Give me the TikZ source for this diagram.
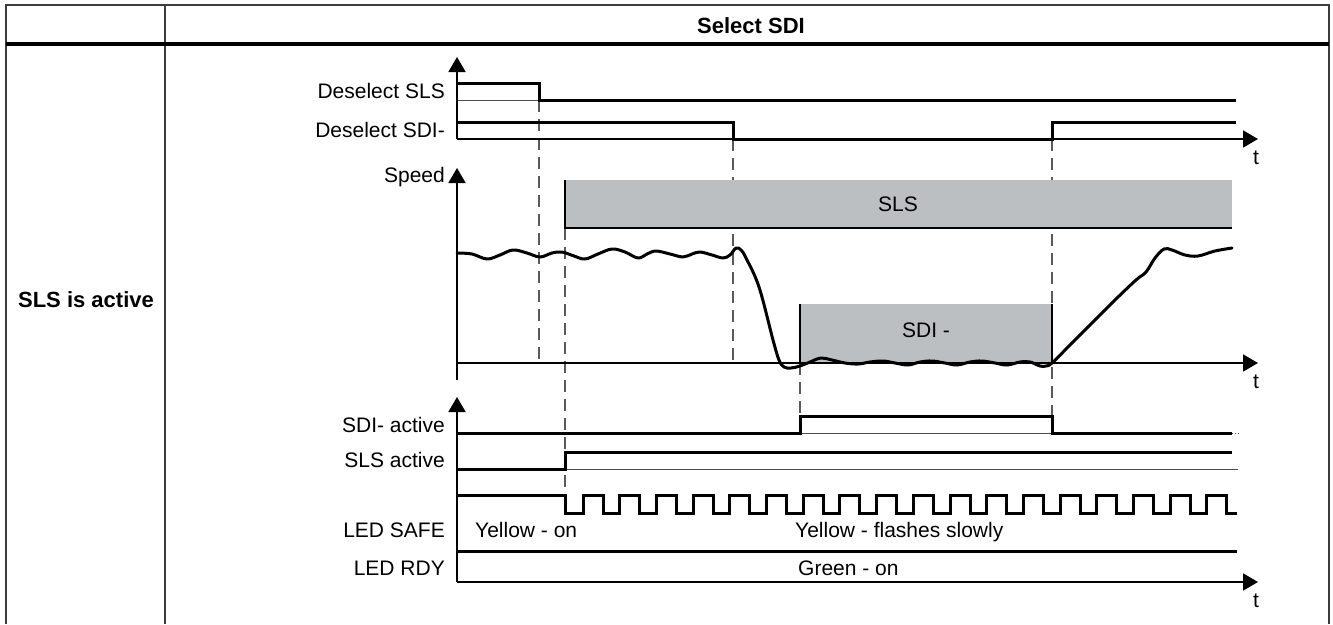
\documentclass[tikz,border=0pt]{standalone}
\usepackage{fontspec}
\setmainfont{Liberation Sans}
\usetikzlibrary{arrows.meta}
\definecolor{boxgray}{HTML}{BCBFC1}
\definecolor{framegray}{HTML}{3C3C3C}
\definecolor{dashgray}{HTML}{5A5A5A}
\begin{document}
\begin{tikzpicture}[
    x=1pt, y=-1pt,
    lbl/.style={font=\fontsize{21}{25}\selectfont, inner sep=0pt, anchor=base east},
    txt/.style={font=\fontsize{21}{25}\selectfont, inner sep=0pt, anchor=base},
    hdr/.style={font=\fontsize{22}{26}\selectfont\bfseries, inner sep=0pt, anchor=base},
    frame/.style={draw=framegray, line width=1.5pt},
    sig/.style={line width=3pt, line join=miter},
    thin/.style={line width=0.9pt, draw=black!70},
    axis/.style={line width=1.8pt},
    axarrow/.style={line width=1.8pt, -{Triangle[length=15pt,width=17pt]}},
    guide/.style={line width=1.2pt, draw=dashgray, dash pattern=on 12pt off 7pt},
    zone/.style={fill=boxgray}
]
\useasboundingbox (0,0) rectangle (1333,624);

% table frame
\draw[frame] (6,624) -- (6,5) -- (1329,5) -- (1329,624);
\draw[frame] (165,5) -- (165,624);
\draw[line width=3.5pt] (6,44) -- (1329,44);
\node[hdr] (title) at (751,33) {Select SDI};
\node[hdr] (state) at (86,307) {SLS is active};

% guide lines
\draw[guide] (539,100) -- (539,363);
\draw[guide] (565,228) -- (565,495);
\draw[guide] (733,139) -- (733,363);
\draw[guide] (1052,139) -- (1052,433);
\draw[guide] (800,363) -- (800,416);

% limit zones
\fill[zone] (565,180) rectangle (1232,228);
\draw[line width=1.4pt] (565,180) -- (565,228) -- (1232,228);
\fill[zone] (800,304) rectangle (1052,363);
\draw[line width=1.2pt] (800,363) -- (800,304);
\draw[line width=1.2pt] (1052,304) -- (1052,363);
\node[txt] (sls) at (898,211) {SLS};
\node[txt] (sdi) at (926,337) {SDI -};

% inputs
\node[lbl] (dsls) at (445,98) {Deselect SLS};
\node[lbl] (dsdi) at (445,137) {Deselect SDI-};
\draw[thin] (457,100) -- (539,100);
\draw[axarrow] (457,139) -- (457,57);
\draw[axarrow] (457,139) -- (1258,139);
\node[txt] (t1) at (1256,164) {t};
\draw[sig] (457,83) -- (539,83) -- (539,100) -- (1236,100);
\draw[sig] (457,122) -- (733,122) -- (733,139) -- (1052,139) -- (1052,122) -- (1236,122);

% speed
\node[lbl] (spd) at (445,182) {Speed};
\draw[axarrow] (457,380) -- (457,168);
\draw[axarrow] (457,363) -- (1258,363);
\node[txt] (t2) at (1256,388) {t};
\draw[line width=3pt, line join=round, line cap=round] plot[smooth, tension=0.6] coordinates {
  (457,253) (472,254) (487,259) (500,255) (513,250) (527,253) (540,257)
  (552,253) (562,252) (574,256) (585,259) (598,254) (612,249) (625,252)
  (638,258) (647,254) (656,251) (670,254) (683,257) (692,254) (700,252)
  (712,255) (723,258) (730,255) (736,248) (741,250) (746,258) (759,287)
  (773,340) (779,360) (784,367) (791,368) (800,366) (810,362) (821,358)
  (832,360) (845,363) (858,364) (870,362) (883,361) (895,363) (908,365)
  (920,362) (932,361) (945,363) (957,365) (970,362) (982,361) (995,363)
  (1007,365) (1020,362) (1030,362) (1040,366) (1046,366) (1052,363)
  (1070,345) (1093,322) (1115,300) (1136,280) (1146,272) (1155,258)
  (1164,249) (1172,250) (1185,255) (1198,256) (1215,251) (1232,248)};

% outputs and LEDs
\node[lbl] (sdiact) at (445,432) {SDI- active};
\node[lbl] (slsact) at (445,467) {SLS active};
\node[lbl] (safe) at (445,537) {LED SAFE};
\node[lbl] (rdy) at (445,575) {LED RDY};
\draw[axarrow] (457,582) -- (457,397);
\draw[axarrow] (457,582) -- (1258,582);
\node[txt] (t3) at (1256,607) {t};
\draw[thin] (800,433) -- (1052,433);
\draw[thin, dotted] (1232,433) -- (1240,433);
\draw[thin] (565,469) -- (1238,469);
\draw[sig] (457,433) -- (800,433) -- (800,416) -- (1052,416) -- (1052,433) -- (1232,433);
\draw[sig] (457,469) -- (565,469) -- (565,452) -- (1232,452);
\draw[sig] (457,495) -- (565,495) -- (565,513)
  \foreach \k in {0,...,17} { -- ({583+36.7*\k},513) -- ++(0,-18) -- ++(20,0) -- ++(0,18) }
  -- (1237,513);
\draw[sig] (457,551) -- (1237,551);
\node[txt, anchor=base west] (yon) at (475,537) {Yellow - on};
\node[txt, anchor=base west] (yfl) at (795,537) {Yellow - flashes slowly};
\node[txt, anchor=base west] (gon) at (798,575) {Green - on};
\end{tikzpicture}
\end{document}
